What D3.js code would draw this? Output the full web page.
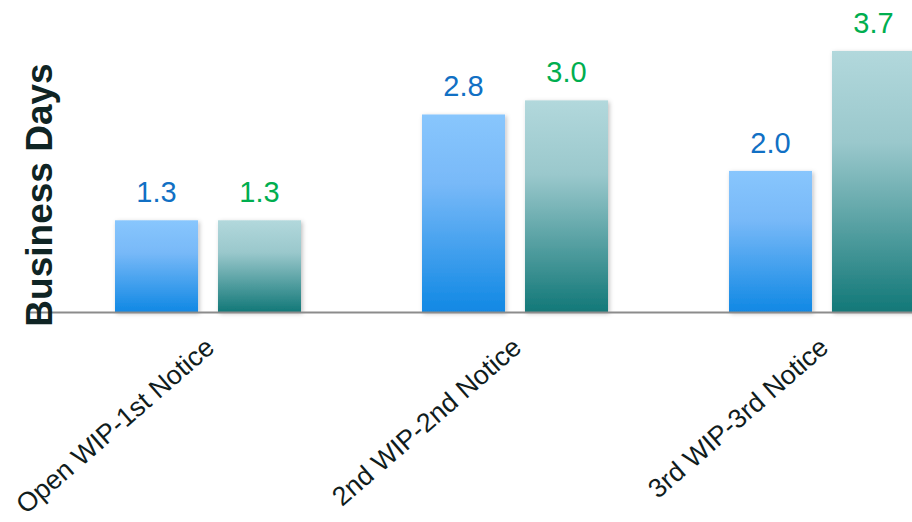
<!DOCTYPE html>
<html><head><meta charset="utf-8">
<script src="https://cdn.jsdelivr.net/npm/d3@7"></script>
<style>html,body{margin:0;padding:0;background:#fff;overflow:hidden}</style>
</head><body>
<svg id="c" width="912" height="522"></svg>
<script>
const categories = ["Open WIP-1st Notice", "2nd WIP-2nd Notice", "3rd WIP-3rd Notice"];
const series = ["A", "B"];
const valuesA = [1.3, 2.8, 2.0];
const valuesB = [1.3, 3.0, 3.7];
const labelsA = ["1.3", "2.8", "2.0"];
const labelsB = ["1.3", "3.0", "3.7"];

const svg = d3.select("#c");
const defs = svg.append("defs");
const gA = defs.append("linearGradient").attr("id","gA").attr("x1",0).attr("y1",0).attr("x2",0).attr("y2",1);
gA.append("stop").attr("offset","0%").attr("stop-color","#88c6fd");
gA.append("stop").attr("offset","35%").attr("stop-color","#78b9f8");
gA.append("stop").attr("offset","100%").attr("stop-color","#1088e4");
const gB = defs.append("linearGradient").attr("id","gB").attr("x1",0).attr("y1",0).attr("x2",0).attr("y2",1);
gB.append("stop").attr("offset","0%").attr("stop-color","#b2d8dc");
gB.append("stop").attr("offset","35%").attr("stop-color","#9ac8cc");
gB.append("stop").attr("offset","100%").attr("stop-color","#127878");
const f = defs.append("filter").attr("id","sh").attr("x","-20%").attr("y","-20%").attr("width","140%").attr("height","140%");
f.append("feDropShadow").attr("dx",1.5).attr("dy",1.5).attr("stdDeviation",2).attr("flood-color","#000").attr("flood-opacity",0.25);

const baseY = 312;
const x0 = d3.scaleBand().domain(categories).range([54.5, 975.5]).padding(0);
const x1 = d3.scaleBand().domain(series).range([60.5, 246.5]).paddingInner(0.194).paddingOuter(0);
const y = d3.scaleLinear().domain([0, 3.7]).range([baseY, 51]);

const data = categories.map((c,i)=>({c, vals:[
  {s:"A", v:valuesA[i], t:labelsA[i], fill:"url(#gA)", col:"#1170c4"},
  {s:"B", v:valuesB[i], t:labelsB[i], fill:"url(#gB)", col:"#00ae4f"}]}));

const groups = svg.selectAll("g.grp").data(data).join("g").attr("class","grp")
  .attr("transform", d=>`translate(${x0(d.c)},0)`);
groups.selectAll("rect").data(d=>d.vals).join("rect")
  .attr("x", d=>x1(d.s)).attr("width", x1.bandwidth())
  .attr("y", d=>y(d.v)).attr("height", d=>y(0)-y(d.v))
  .attr("fill", d=>d.fill).attr("filter","url(#sh)");
groups.selectAll("text").data(d=>d.vals).join("text")
  .attr("x", d=>x1(d.s)+x1.bandwidth()/2).attr("y", d=>y(d.v)-18)
  .attr("text-anchor","middle").attr("font-family","Liberation Sans, Arial, sans-serif")
  .attr("font-size",29).attr("fill", d=>d.col).text(d=>d.t);

// axis line
svg.append("line").attr("x1",28).attr("x2",912).attr("y1",baseY+0.5).attr("y2",baseY+0.5)
  .attr("stroke","#8c8c8c").attr("stroke-width",2);

// category labels
svg.selectAll("text.cat").data(categories).join("text").attr("class","cat")
  .attr("transform", d=>`translate(${x0(d)+x0.bandwidth()/2+8},${baseY+38}) rotate(-41)`)
  .attr("text-anchor","end").attr("font-family","Liberation Sans, Arial, sans-serif")
  .attr("font-size",26.8).attr("fill","#101c1c").text(d=>d);

// y title
svg.append("text").attr("transform",`translate(52,195) rotate(-90)`)
  .attr("text-anchor","middle").attr("font-family","Liberation Sans, Arial, sans-serif")
  .attr("font-weight","bold").attr("font-size",37).attr("fill","#0f2424").text("Business Days");
</script>
</body></html>
